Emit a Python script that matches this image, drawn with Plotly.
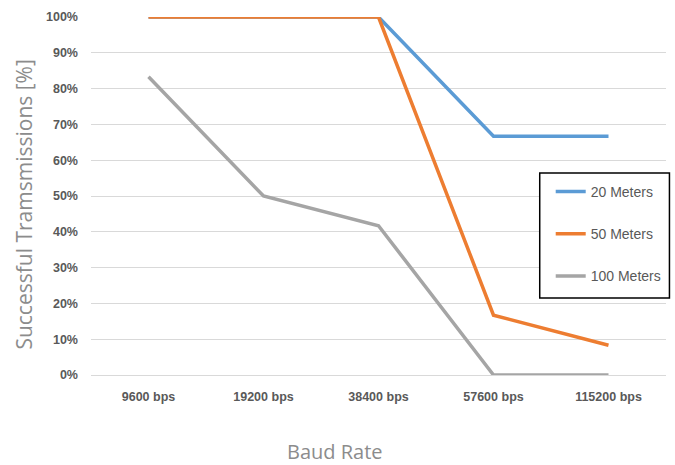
import plotly.graph_objects as go

baud_rates = ["9600 bps", "19200 bps", "38400 bps", "57600 bps", "115200 bps"]
meters_20 = [100, 100, 100, 66.7, 66.7]
meters_50 = [100, 100, 100, 16.7, 8.3]
meters_100 = [83.3, 50, 41.7, 0, 0]

series = [
    ("20 Meters", meters_20, "#5b9bd5"),
    ("50 Meters", meters_50, "#ed7d31"),
    ("100 Meters", meters_100, "#a5a5a5"),
]

fig = go.Figure()
for i, (name, vals, color) in enumerate(series):
    fig.add_trace(go.Scatter(
        x=baud_rates, y=vals, name=name, mode="lines",
        line=dict(color=color, width=3.5),
        legendgroup=f"g{i}",
    ))

tick_font = dict(family="Liberation Sans, Arial", size=12.5, color="#595959", weight="bold")
title_font = dict(family="Open Sans, Noto Sans", size=21, color="#8c8c8c")

# white legend frame with a black border
fig.add_shape(
    type="rect", xref="paper", yref="paper",
    x0=0.7804, x1=1.006, y0=0.2151, y1=0.5642,
    fillcolor="white", line=dict(color="black", width=1.5), layer="above",
)

fig.add_annotation(
    text="Successful Tramsmissions [%]", xref="paper", yref="paper",
    x=-0.1172, y=0.4749, textangle=-90, showarrow=False,
    font=title_font, xanchor="center", yanchor="middle",
)
fig.add_annotation(
    text="Baud Rate", xref="paper", yref="paper",
    x=0.4245, y=-0.2123, showarrow=False,
    font=dict(title_font, size=20), xanchor="center", yanchor="middle",
)

fig.update_layout(
    width=675, height=465,
    margin=dict(l=90.5, r=8.5, t=17, b=90),
    paper_bgcolor="white", plot_bgcolor="white",
    showlegend=True,
    legend=dict(
        x=0.7995, y=0.5559, xanchor="left", yanchor="top",
        borderwidth=0, bgcolor="rgba(0,0,0,0)",
        font=dict(family="Liberation Sans, Arial", size=14, color="#595959"),
        tracegroupgap=21,
        itemwidth=30,
    ),
    xaxis=dict(
        showgrid=False, showline=True, linecolor="#d9d9d9", linewidth=1,
        tickfont=tick_font, ticks="", range=[-0.5, 4.5],
        ticklabelstandoff=10,
    ),
    yaxis=dict(
        range=[0, 100], dtick=10, ticksuffix="%",
        showgrid=True, gridcolor="#d9d9d9", gridwidth=1,
        zeroline=False, showline=False,
        tickfont=tick_font, ticks="",
        ticklabelstandoff=12,
    ),
)

fig.write_html("out.html")
